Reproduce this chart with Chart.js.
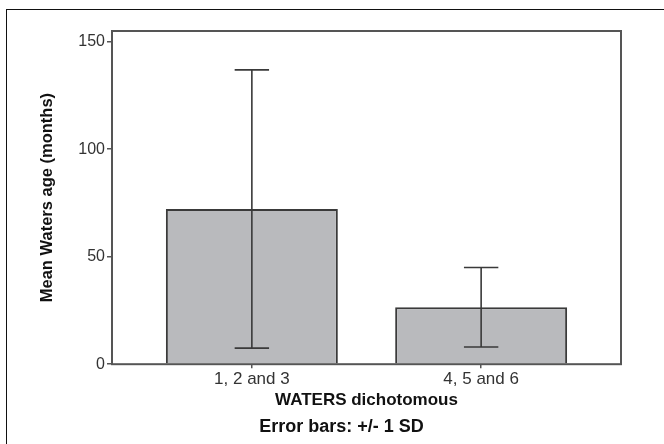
<!DOCTYPE html>
<html>
<head>
<meta charset="utf-8">
<script src="https://cdn.jsdelivr.net/npm/chart.js@4/dist/chart.umd.min.js"></script>
<style>
  body { margin: 0; background: #fff; }
  #wrap { position: relative; width: 664px; height: 444px; }
  #frame {
    position: absolute; left: 6px; top: 9px; right: 0; bottom: 0;
    border-left: 1.5px solid #111; border-top: 1.5px solid #111;
    pointer-events: none;
  }
  canvas { position: absolute; left: 0; top: 0; }
</style>
</head>
<body>
<div id="wrap">
  <div id="frame"></div>
  <canvas id="chart" width="664" height="444"></canvas>
</div>
<script>
// categorias e valores (média e desvio padrão)
const categories = ["1, 2 and 3", "4, 5 and 6"];
const means = [72.2, 26.5];
const sds = [64.7, 18.5];
const yTicks = [0, 50, 100, 150];
const footnote = "Error bars: +/- 1 SD";

const FONT = "'Liberation Sans', Arial, Helvetica, sans-serif";

// barras de erro (+/- 1 DP) desenhadas pelas escalas do gráfico
const errorBars = {
  id: "errorBars",
  afterDatasetsDraw(chart) {
    const { ctx, scales } = chart;
    const meta = chart.getDatasetMeta(0);
    ctx.save();
    ctx.strokeStyle = "#3a3a3a";
    ctx.lineWidth = 1.6;
    means.forEach((m, i) => {
      const x = scales.x.getPixelForValue(i);
      const top = scales.y.getPixelForValue(m + sds[i]);
      const bot = scales.y.getPixelForValue(m - sds[i]);
      const half = meta.data[i].width * 0.1;
      ctx.beginPath();
      ctx.moveTo(x, top);
      ctx.lineTo(x, bot);
      ctx.moveTo(x - half, top);
      ctx.lineTo(x + half, top);
      ctx.moveTo(x - half, bot);
      ctx.lineTo(x + half, bot);
      ctx.stroke();
    });
    // moldura da área do gráfico
    const a = chart.chartArea;
    ctx.strokeStyle = "#555";
    ctx.lineWidth = 2;
    ctx.strokeRect(a.left, a.top, a.right - a.left, a.bottom - a.top);
    ctx.restore();
  },
  afterDraw(chart) {
    // nota de rodapé abaixo do título do eixo x
    const { ctx } = chart;
    ctx.save();
    ctx.fillStyle = "#111";
    ctx.font = "bold 18px " + FONT;
    ctx.textAlign = "center";
    ctx.textBaseline = "middle";
    ctx.fillText(footnote, 341.5, 427);
    ctx.restore();
  },
};

new Chart(document.getElementById("chart"), {
  type: "bar",
  data: {
    datasets: [
      {
        data: means.map((m, i) => ({ x: i, y: m })),
        backgroundColor: "#b9babd",
        borderColor: "#3a3a3a",
        borderWidth: 2,
        barPercentage: 0.75,
        categoryPercentage: 1,
      },
    ],
  },
  options: {
    responsive: false,
    animation: false,
    layout: { padding: { left: 8, top: 31, right: 43, bottom: 28 } },
    plugins: {
      legend: { display: false },
      tooltip: { enabled: false },
    },
    scales: {
      x: {
        type: "linear",
        offset: false,
        min: -0.61,
        max: 1.61,
        afterBuildTicks: (axis) => {
          axis.ticks = categories.map((c, i) => ({ value: i }));
        },
        border: { display: false },
        grid: {
          offset: false,
          drawOnChartArea: false,
          drawTicks: true,
          tickLength: 4,
          color: "#555",
          lineWidth: 1.5,
        },
        ticks: {
          color: "#333",
          padding: 1,
          font: { family: FONT, size: 17 },
          callback: (v) => categories[v],
        },
        title: {
          display: true,
          text: "WATERS dichotomous",
          color: "#111",
          font: { family: FONT, size: 17, weight: "bold" },
          padding: { top: 0, bottom: 5 },
        },
      },
      y: {
        min: 0,
        max: 155,
        afterBuildTicks: (axis) => {
          axis.ticks = yTicks.map((v) => ({ value: v }));
        },
        afterFit: (axis) => {
          axis.width = 104;
        },
        border: { display: false },
        grid: {
          drawOnChartArea: false,
          drawTicks: true,
          tickLength: 5,
          color: "#555",
          lineWidth: 1.5,
        },
        ticks: {
          color: "#333",
          padding: 2,
          font: { family: FONT, size: 16 },
        },
        title: {
          display: true,
          text: "Mean Waters age (months)",
          color: "#111",
          font: { family: FONT, size: 16.5, weight: "bold" },
          padding: { top: 30, bottom: 0 },
        },
      },
    },
  },
  plugins: [errorBars],
});
</script>
</body>
</html>
